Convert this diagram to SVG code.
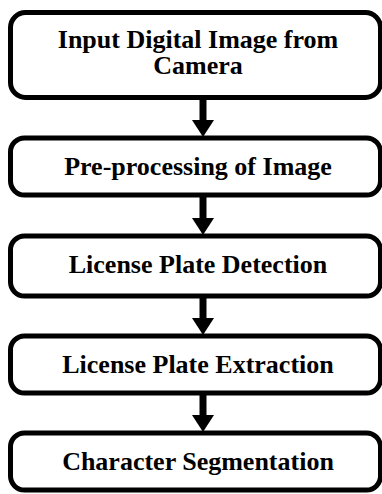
<svg xmlns="http://www.w3.org/2000/svg" width="382" height="494" viewBox="0 0 382 494">
<style>
.box{fill:#fff;stroke:#000;stroke-width:5}
.lbl{font-family:Tinos,"Liberation Serif","Times New Roman","DejaVu Serif","Noto Serif",serif;font-weight:bold;font-size:26px;fill:#000;text-anchor:middle}
.shaft{stroke:#000;stroke-width:7;fill:none}
.head{fill:#000}
</style>
<rect width="382" height="494" fill="#fff"/>
<g id="connectors">
<line class="shaft" x1="203" y1="98" x2="203" y2="122"/><polygon class="head" points="192,120 214,120 203,137"/>
<line class="shaft" x1="203" y1="196" x2="203" y2="220"/><polygon class="head" points="192,218 214,218 203,235"/>
<line class="shaft" x1="203" y1="296" x2="203" y2="320"/><polygon class="head" points="192,318 214,318 203,335"/>
<line class="shaft" x1="203" y1="393" x2="203" y2="417"/><polygon class="head" points="192,415 214,415 203,432"/>
</g>
<g id="n1"><rect class="box" x="10.5" y="12.5" width="370" height="85" rx="15"/>
<text class="lbl" x="198" y="48">Input Digital Image from</text><text class="lbl" x="198" y="74">Camera</text></g>
<g id="n2"><rect class="box" x="10.5" y="138" width="370" height="57" rx="14"/>
<text class="lbl" x="198" y="175">Pre-processing of Image</text></g>
<g id="n3"><rect class="box" x="10.5" y="236" width="370" height="60" rx="14"/>
<text class="lbl" x="198" y="273">License Plate Detection</text></g>
<g id="n4"><rect class="box" x="10.5" y="336" width="370" height="57" rx="14"/>
<text class="lbl" x="198" y="373">License Plate Extraction</text></g>
<g id="n5"><rect class="box" x="10.5" y="433" width="370" height="57" rx="14"/>
<text class="lbl" x="198" y="470">Character Segmentation</text></g>
</svg>
